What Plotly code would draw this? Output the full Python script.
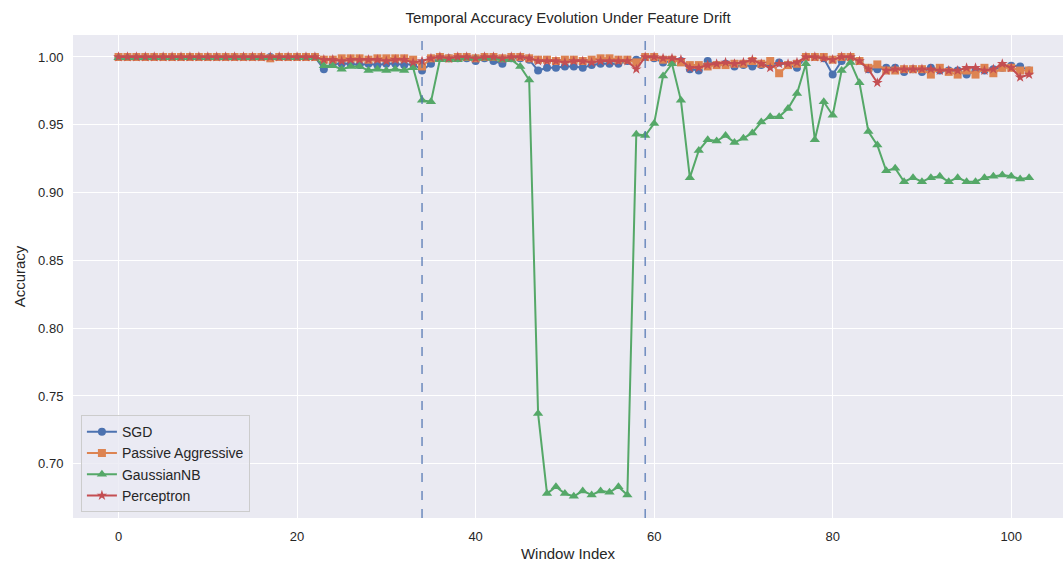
import plotly.graph_objects as go

window_index = list(range(103))

sgd = ([1.0] * 23 +
       [0.991, 0.995, 0.995, 0.995, 0.994, 0.995, 0.994, 0.995, 0.995, 0.994, 0.995,
        0.990, 0.995, 1.0, 0.999, 0.999, 0.999, 0.997, 0.999, 0.997, 0.995, 0.999,
        0.999, 0.998, 0.990, 0.992, 0.992, 0.993, 0.993, 0.992, 0.994, 0.995, 0.995,
        0.995, 0.997, 0.998, 1.0, 0.999, 0.996, 0.997, 0.997, 0.991, 0.990, 0.997,
        0.994, 0.995, 0.993, 0.994, 0.993, 0.994, 0.994, 0.996, 0.994, 0.992, 1.0,
        1.0, 0.999, 0.987, 0.997, 1.0, 0.997, 0.991, 0.991, 0.992, 0.992, 0.989,
        0.991, 0.989, 0.992, 0.990, 0.990, 0.990, 0.987, 0.990, 0.990, 0.991, 0.992,
        0.9935, 0.993, 0.990])

passive_aggressive = ([1.0] * 17 + [0.999] + [1.0] * 5 +
       [0.998, 0.998, 0.999, 0.999, 0.999, 0.998, 0.999, 0.999, 0.999, 0.999, 0.998,
        0.993, 0.999, 1.0, 0.999, 1.0, 1.0, 0.999, 1.0, 1.0, 0.999, 1.0, 1.0, 0.999,
        0.998, 0.998, 0.997, 0.998, 0.998, 0.997, 0.998, 0.999, 0.999, 0.998, 0.998,
        0.996, 1.0, 1.0, 0.998, 0.998, 0.996, 0.994, 0.994, 0.993, 0.994, 0.994,
        0.995, 0.995, 0.997, 0.995, 0.997, 0.988, 0.994, 0.995, 1.0, 1.0, 1.0, 0.998,
        1.0, 1.0, 0.997, 0.992, 0.9945, 0.990, 0.990, 0.991, 0.991, 0.991, 0.987,
        0.992, 0.989, 0.987, 0.990, 0.987, 0.992, 0.988, 0.992, 0.992, 0.990, 0.990])

gaussian_nb = ([0.9995] * 23 +
       [0.9935, 0.9935, 0.991, 0.993, 0.993, 0.990, 0.991, 0.990, 0.991, 0.990, 0.992,
        0.968, 0.967, 0.998, 0.998, 0.998, 0.999, 0.999, 0.999, 0.999, 0.998, 0.998,
        0.993, 0.983, 0.737, 0.678, 0.683, 0.678, 0.676, 0.680, 0.677, 0.680, 0.679,
        0.683, 0.677, 0.943, 0.942, 0.951, 0.986, 0.995, 0.968, 0.911, 0.931, 0.939,
        0.938, 0.942, 0.937, 0.940, 0.944, 0.952, 0.956, 0.956, 0.962, 0.973, 0.995,
        0.939, 0.967, 0.957, 0.990, 0.996, 0.981, 0.945, 0.935, 0.916, 0.918, 0.908,
        0.911, 0.908, 0.911, 0.912, 0.908, 0.911, 0.908, 0.908, 0.911, 0.912, 0.913,
        0.912, 0.910, 0.911])

perceptron = ([1.0] * 23 +
       [0.998, 0.998, 0.997, 0.998, 0.998, 0.998, 0.998, 0.997, 0.998, 0.998, 0.996,
        0.997, 0.999, 1.0, 0.999, 1.0, 1.0, 0.999, 1.0, 1.0, 0.999, 1.0, 1.0, 0.999,
        0.997, 0.997, 0.997, 0.996, 0.997, 0.997, 0.996, 0.997, 0.997, 0.997, 0.997,
        0.991, 1.0, 1.0, 0.999, 0.999, 0.998, 0.992, 0.992, 0.994, 0.995, 0.996,
        0.995, 0.996, 0.998, 0.995, 0.992, 0.995, 0.995, 0.996, 1.0, 1.0, 0.999,
        0.998, 1.0, 1.0, 0.997, 0.991, 0.981, 0.990, 0.991, 0.991, 0.991, 0.991,
        0.991, 0.990, 0.990, 0.990, 0.992, 0.992, 0.990, 0.991, 0.995, 0.992, 0.985,
        0.987])

drift_points = [34, 59]
x_ticks = [0, 20, 40, 60, 80, 100]
y_ticks = [0.70, 0.75, 0.80, 0.85, 0.90, 0.95, 1.00]

series = [
    ("SGD", sgd, "#4C72B0", "circle", 8),
    ("Passive Aggressive", passive_aggressive, "#DD8452", "square", 8),
    ("GaussianNB", gaussian_nb, "#55A868", "triangle-up", 9),
    ("Perceptron", perceptron, "#C44E52", "star", 8),
]

FONT = "Liberation Sans, Arial, sans-serif"
TXT = "#262626"

fig = go.Figure()
for name, vals, color, symbol, size in series:
    fig.add_trace(go.Scatter(
        x=window_index, y=vals, name=name, mode="lines+markers",
        line=dict(color=color, width=2),
        marker=dict(symbol=symbol, size=size, color=color),
    ))

for dp in drift_points:
    fig.add_vline(x=dp, line=dict(color="rgba(76,114,176,0.75)", width=1.6, dash="dash"))

fig.update_layout(
    width=1064, height=570,
    margin=dict(l=73, r=1, t=35, b=52),
    paper_bgcolor="white", plot_bgcolor="#EAEAF2",
    font=dict(family=FONT, color=TXT, size=13),
    title=dict(text="Temporal Accuracy Evolution Under Feature Drift",
               x=0.5, xref="paper", xanchor="center", y=0.968, yanchor="middle",
               font=dict(size=15, color=TXT)),
    xaxis=dict(range=[-5.1, 105.8], tickvals=x_ticks, showgrid=True,
               gridcolor="white", gridwidth=1.3, zeroline=False, showline=False,
               ticks="outside", ticklen=6, tickcolor="rgba(0,0,0,0)",
               tickfont=dict(size=13, color=TXT),
               title=dict(text="Window Index", font=dict(size=15, color=TXT), standoff=5)),
    yaxis=dict(range=[0.660, 1.0162], tickvals=y_ticks, tickformat=".2f",
               showgrid=True, gridcolor="white", gridwidth=1.3, zeroline=False,
               showline=False, ticks="outside", ticklen=6, tickcolor="rgba(0,0,0,0)",
               tickfont=dict(size=13, color=TXT),
               title=dict(text="Accuracy", font=dict(size=15, color=TXT), standoff=8)),
    legend=dict(x=0.008, y=0.012, xanchor="left", yanchor="bottom",
                bgcolor="rgba(234,234,242,0.8)", bordercolor="#CCCCCC", borderwidth=1,
                font=dict(size=14, color=TXT), itemwidth=30, tracegroupgap=2),
    showlegend=True,
)

fig.write_html("out.html")
